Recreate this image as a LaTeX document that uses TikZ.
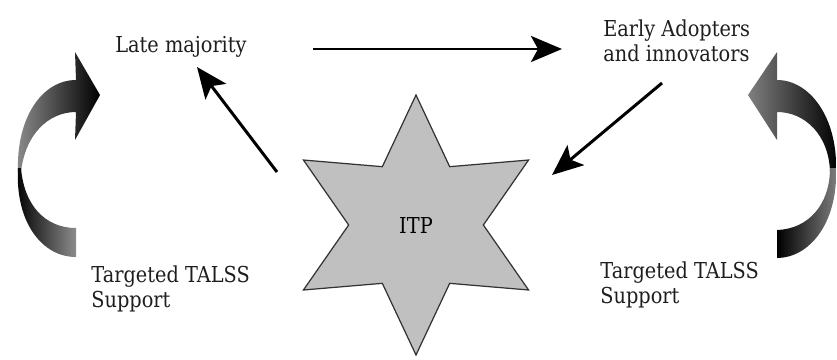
\documentclass[tikz,border=0pt]{standalone}
\usepackage{fontspec}
\setmainfont{DejaVu Serif}[FakeStretch=0.88]
\usepackage{xcolor}
\usetikzlibrary{arrows.meta, positioning, shapes.geometric}
\definecolor{stargray}{RGB}{192,192,192}
\definecolor{txtgray}{RGB}{30,30,30}

\begin{document}
\begin{tikzpicture}[x=0.02cm, y=-0.02cm,
      lbl/.style={align=left, inner sep=0pt, text=txtgray,
                  font=\fontsize{12.5}{14.2}\selectfont},
      itp/.style={star, star points=6, star point ratio=1.93,
                  minimum size=5.2cm, inner sep=0pt, draw=black!80,
                  line width=0.7pt, fill=stargray,
                  font=\fontsize{12.5}{14.2}\selectfont},
      arr/.style={-{Stealth[length=0.62cm, width=0.52cm, inset=0.14cm]},
                  line width=1.7pt}
    ]
    \useasboundingbox (0,0) rectangle (837,359);

    \node[itp] (itp) at (416,225) {ITP};
    \node[lbl, anchor=base west] (late)  at (115,52)  {Late majority};
    \node[lbl, anchor=base west] (early) at (603,61)  {Early Adopters\\and innovators};
    \node[lbl, anchor=base west] (talssl) at (91,307) {Targeted TALSS\\Support};
    \node[lbl, anchor=base west] (talssr) at (600,303) {Targeted TALSS\\Support};

    \coordinate (lateend)  at (313,49);
    \coordinate (earlyend) at (562,49);
    \coordinate (itpnw)    at (277,172);
    \coordinate (latetip)  at (197,67);
    \coordinate (earlytail) at (662,83);
    \coordinate (itpne)    at (552,175);

    \draw[arr] (lateend) -- (earlyend);
    \draw[arr] (itpnw) -- (latetip);
    \draw[arr] (earlytail) -- (itpne);

    % curved support arrows
    \shade[left color=black!45, right color=black]
      (18,172) .. controls (16,118) and (42,80) .. (76,80)
      -- (75,52) -- (100,95) -- (75,140) -- (76,112)
      .. controls (48,112) and (25,135) .. (21,172) -- cycle;
    \shade[left color=black, right color=black!45]
      (18,168) .. controls (15,222) and (42,257) .. (76,257)
      -- (76,228) .. controls (45,228) and (24,205) .. (21,168) -- cycle;

    \shade[left color=black!50, right color=black]
      (836,172) .. controls (838,118) and (810,80) .. (777,80)
      -- (777,52) -- (748,95) -- (777,140) -- (777,112)
      .. controls (805,112) and (829,135) .. (830,172) -- cycle;
    \shade[left color=black, right color=black!50]
      (836,168) .. controls (838,225) and (808,258) .. (777,258)
      -- (777,230) .. controls (808,229) and (830,205) .. (830,168) -- cycle;
  \end{tikzpicture}
\end{document}
